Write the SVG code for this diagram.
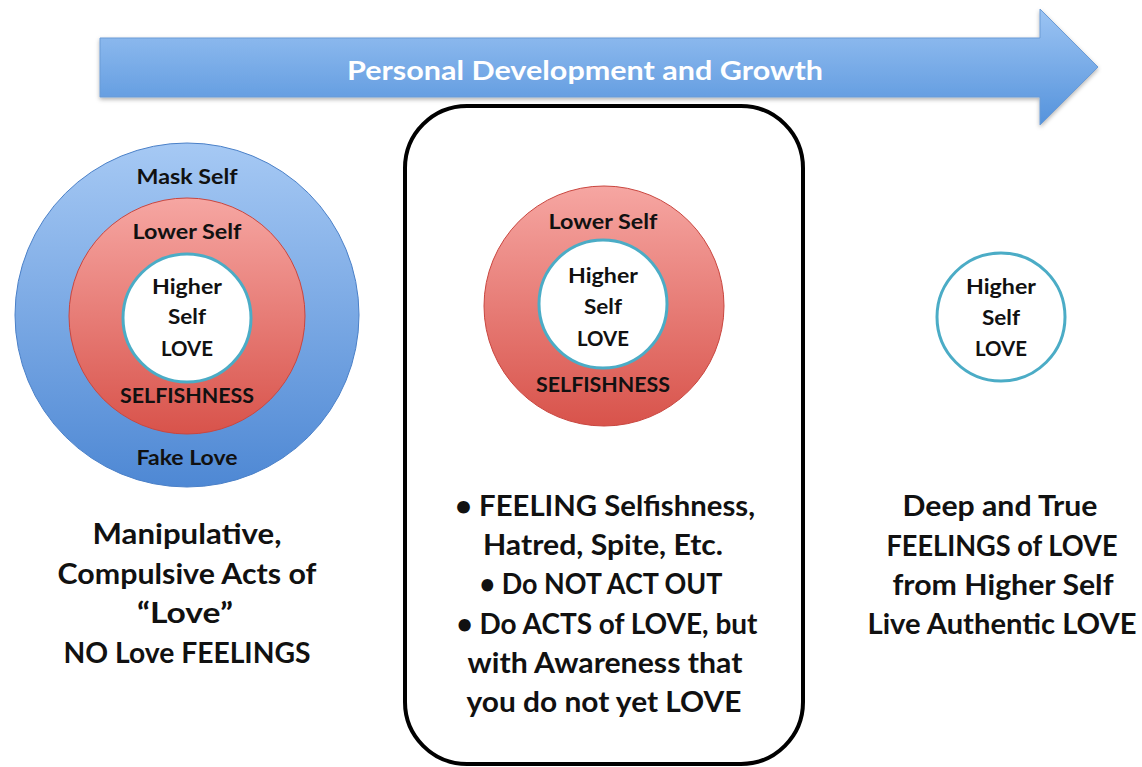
<svg xmlns="http://www.w3.org/2000/svg" width="1142" height="767" viewBox="0 0 1142 767">
<defs>
<linearGradient id="gBlue" x1="0" y1="0" x2="0" y2="1">
<stop offset="0" stop-color="#a6c9f4"/>
<stop offset="1" stop-color="#4e88d4"/>
</linearGradient>
<linearGradient id="gArrow" x1="0" y1="0" x2="0" y2="1">
<stop offset="0" stop-color="#9cc4f3"/>
<stop offset="1" stop-color="#5593dc"/>
</linearGradient>
<linearGradient id="gRed" x1="0" y1="0" x2="0" y2="1">
<stop offset="0" stop-color="#f6a6a2"/>
<stop offset="1" stop-color="#d8534b"/>
</linearGradient>
<filter id="sh" x="-10%" y="-10%" width="120%" height="130%">
<feDropShadow dx="0" dy="2" stdDeviation="2" flood-color="#000" flood-opacity="0.3"/>
</filter>
</defs>
<style>
text{font-family:Lato,"Open Sans","Liberation Sans",sans-serif;font-weight:bold;fill:#111;text-anchor:middle}
.s{font-size:21px}
.b{font-size:28px}
.hi{fill:#fff;stroke:#4bacc6;stroke-width:3}
.title{fill:#fff;font-size:27px;font-weight:bold}
</style>
<rect width="1142" height="767" fill="#fff"/>
<g id="arrow">
<path d="M100,38 H1040 V9 L1098,67 L1040,125 V97 H100 Z" fill="url(#gArrow)" stroke="#6a9bd6" stroke-width="1" filter="url(#sh)"/>
<text class="title" x="585" y="80" textLength="476" lengthAdjust="spacingAndGlyphs">Personal Development and Growth</text>
</g>
<g id="left-circles">
<circle cx="187" cy="315" r="172" fill="url(#gBlue)" stroke="#4a80c8" stroke-width="1"/>
<circle cx="187" cy="316" r="118" fill="url(#gRed)" stroke="#c9463f" stroke-width="1"/>
<circle class="hi" cx="187" cy="318" r="64"/>
<text class="s" x="187" y="184" textLength="101" lengthAdjust="spacingAndGlyphs">Mask Self</text>
<text class="s" x="187" y="239" textLength="109" lengthAdjust="spacingAndGlyphs">Lower Self</text>
<text class="s" x="187" y="294" textLength="70" lengthAdjust="spacingAndGlyphs">Higher</text>
<text class="s" x="187" y="324" textLength="38" lengthAdjust="spacingAndGlyphs">Self</text>
<text class="s" x="187" y="356" textLength="52" lengthAdjust="spacingAndGlyphs">LOVE</text>
<text class="s" x="187" y="403" textLength="134" lengthAdjust="spacingAndGlyphs">SELFISHNESS</text>
<text class="s" x="187" y="465" textLength="101" lengthAdjust="spacingAndGlyphs">Fake Love</text>
</g>
<g id="left-text">
<text class="b" x="187" y="544" textLength="189" lengthAdjust="spacingAndGlyphs">Manipulative,</text>
<text class="b" x="187" y="584" textLength="259" lengthAdjust="spacingAndGlyphs">Compulsive Acts of</text>
<text class="b" x="185" y="623" textLength="96" lengthAdjust="spacingAndGlyphs">“Love”</text>
<text class="b" x="187" y="663" textLength="247" lengthAdjust="spacingAndGlyphs">NO Love FEELINGS</text>
</g>
<g id="middle">
<rect x="405" y="106" width="398" height="658" rx="62" ry="62" fill="#fff" stroke="#000" stroke-width="4"/>
<circle cx="604" cy="306" r="120" fill="url(#gRed)" stroke="#c9463f" stroke-width="1"/>
<circle class="hi" cx="603" cy="304" r="64"/>
<text class="s" x="603" y="229" textLength="109" lengthAdjust="spacingAndGlyphs">Lower Self</text>
<text class="s" x="603" y="283" textLength="70" lengthAdjust="spacingAndGlyphs">Higher</text>
<text class="s" x="603" y="314" textLength="38" lengthAdjust="spacingAndGlyphs">Self</text>
<text class="s" x="603" y="346" textLength="52" lengthAdjust="spacingAndGlyphs">LOVE</text>
<text class="s" x="603" y="392" textLength="134" lengthAdjust="spacingAndGlyphs">SELFISHNESS</text>
<text class="b" x="605" y="516" textLength="300" lengthAdjust="spacingAndGlyphs">• FEELING Selfishness,</text>
<text class="b" x="603" y="555" textLength="240" lengthAdjust="spacingAndGlyphs">Hatred, Spite, Etc.</text>
<text class="b" x="601" y="594" textLength="243" lengthAdjust="spacingAndGlyphs">• Do NOT ACT OUT</text>
<text class="b" x="607" y="634" textLength="301" lengthAdjust="spacingAndGlyphs">• Do ACTS of LOVE, but</text>
<text class="b" x="605" y="673" textLength="275" lengthAdjust="spacingAndGlyphs">with Awareness that</text>
<text class="b" x="604" y="712" textLength="275" lengthAdjust="spacingAndGlyphs">you do not yet LOVE</text>
</g>
<g id="right">
<circle class="hi" cx="1001" cy="317" r="64"/>
<text class="s" x="1001" y="294" textLength="70" lengthAdjust="spacingAndGlyphs">Higher</text>
<text class="s" x="1001" y="325" textLength="38" lengthAdjust="spacingAndGlyphs">Self</text>
<text class="s" x="1001" y="356" textLength="52" lengthAdjust="spacingAndGlyphs">LOVE</text>
<text class="b" x="1000" y="516" textLength="195" lengthAdjust="spacingAndGlyphs">Deep and True</text>
<text class="b" x="1002" y="556" textLength="231" lengthAdjust="spacingAndGlyphs">FEELINGS of LOVE</text>
<text class="b" x="1003" y="595" textLength="221" lengthAdjust="spacingAndGlyphs">from Higher Self</text>
<text class="b" x="1002" y="634" textLength="269" lengthAdjust="spacingAndGlyphs">Live Authentic LOVE</text>
</g>
</svg>
